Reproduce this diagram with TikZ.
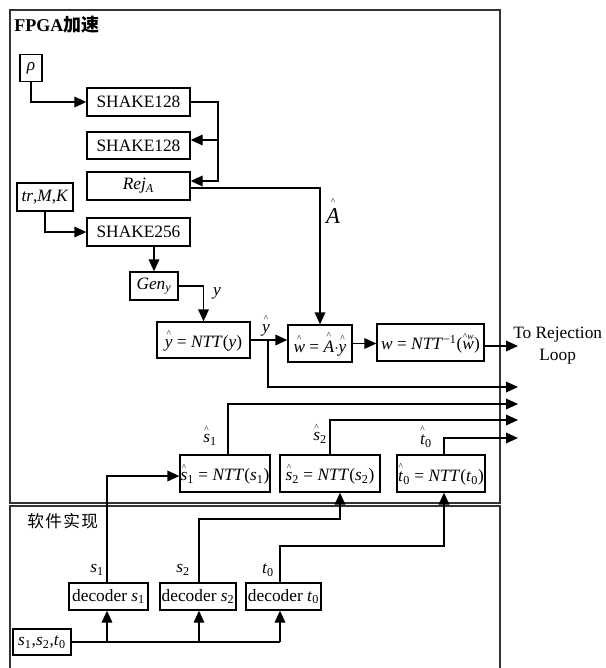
\documentclass[tikz,border=0pt]{standalone}
\usepackage{fontspec}
\usepackage{amsmath}
\setmainfont{Liberation Serif}
\newfontfamily\cjk{Noto Sans CJK SC}
\usetikzlibrary{arrows.meta,calc}
\newcommand\vi[1]{\textit{#1}}
\newcommand\hv[1]{\ensuremath{\overset{\text{\raisebox{-0.5pt}{\fontsize{7}{7}\selectfont\textasciicircum}}}{\text{\textit{#1}}}}}
\newcommand\hvw{\ensuremath{\overset{\text{\raisebox{-0.5pt}{\fontsize{7}{7}\selectfont\textasciicircum\textit{w}}}}{\text{\textit{w}}}}}
\tikzset{
  box/.style={draw, line width=1pt, inner sep=0pt, font=\fontsize{13}{15}\selectfont},
  sz/.style 2 args={minimum width=#1*0.75pt, minimum height=#2*0.75pt},
  arr/.style={line width=1pt, -{Triangle[length=9pt,width=8pt]}},
  ln/.style={line width=1pt},
  lab/.style={font=\fontsize{13}{15}\selectfont, inner sep=0pt},
  frame/.style={draw, line width=0.9pt, color=black!80}
}
\begin{document}
\begin{tikzpicture}[x=0.75pt,y=-0.75pt]
\useasboundingbox (0,0) rectangle (606,668);
% frames
\draw[frame] (10,10) rectangle (500,503);
\draw[frame] (10,670) -- (10,506) -- (500,506) -- (500,670);
\node[lab, anchor=west, font=\fontsize{13.5}{15}\selectfont\bfseries] (t1) at (14,25) {FPGA{\cjk 加速}};
\node[lab, anchor=west, font=\fontsize{12.5}{15}\selectfont] (t2) at (27,521) {\cjk 软\kern1pt 件\kern1pt 实\kern1pt 现};
% boxes
\node[box, sz={22}{27}] (rho) at (31,68) {\vi{ρ}};
\node[box, sz={103}{28}] (sh1) at (138.5,102) {SHAKE128};
\node[box, sz={103}{27}] (sh2) at (138.5,145.5) {SHAKE128};
\node[box, sz={103}{28}] (rej) at (138.5,186) {\vi{Rej}\textsubscript{\vi{A}}};
\node[box, sz={56}{28}] (trmk) at (45,197) {\vi{tr},\vi{M},\vi{K}};
\node[box, sz={103}{28}] (sh256) at (138.5,232) {SHAKE256};
\node[box, sz={48}{28}] (gen) at (154,286) {\vi{Gen}\textsubscript{\vi{y}}};
\node[box, sz={93}{36}] (ntty) at (203.5,340) {\hv{y} = \vi{NTT}(\vi{y})};
\node[box, sz={64}{37}] (wh) at (320,343.5) {\hv{w} = \hv{A}$\cdot$\hv{y}};
\node[box, sz={107}{37}] (winv) at (430.5,342.5) {\vi{w} = \vi{NTT}\textsuperscript{−1}(\hvw)};
\node[box, sz={90}{37}] (ns1) at (225,473.5) {\hv{s}\textsubscript{1} = \vi{NTT}(\vi{s}\textsubscript{1})};
\node[box, sz={100}{37}] (ns2) at (330,473.5) {\hv{s}\textsubscript{2} = \vi{NTT}(\vi{s}\textsubscript{2})};
\node[box, sz={88}{37}] (nt0) at (441,473.5) {\hv{t}\textsubscript{0} = \vi{NTT}(\vi{t}\textsubscript{0})};
\node[box, sz={79}{27}] (d1) at (108.5,596.5) {decoder \vi{s}\textsubscript{1}};
\node[box, sz={76}{27}] (d2) at (198,596.5) {decoder \vi{s}\textsubscript{2}};
\node[box, sz={75}{27}] (d3) at (283.5,596.5) {decoder \vi{t}\textsubscript{0}};
\node[box, sz={58}{26}] (src) at (42,642) {\vi{s}\textsubscript{1},\vi{s}\textsubscript{2},\vi{t}\textsubscript{0}};
% labels
\node[lab, font=\fontsize{17}{19}\selectfont] (alab) at (333,210) {\hv{A}};
\node[lab] (ylab) at (217,293) {\vi{y}};
\node[lab] (yhlab) at (266,325) {\hv{y}};
\node[lab] (s1hl) at (210,435) {\hv{s}\textsubscript{1}};
\node[lab] (s2hl) at (320,433) {\hv{s}\textsubscript{2}};
\node[lab] (t0hl) at (426,436) {\hv{t}\textsubscript{0}};
\node[lab] (s1l) at (97,570) {\vi{s}\textsubscript{1}};
\node[lab] (s2l) at (183,570) {\vi{s}\textsubscript{2}};
\node[lab] (t0l) at (268,570) {\vi{t}\textsubscript{0}};
\node[lab, align=center, anchor=west, font=\fontsize{13}{16.5}\selectfont] (rl) at (513,346) {To Rejection\\Loop};
% connectors
\coordinate (j1) at (218,140);
\draw[arr] (rho.south) |- (sh1.west);
\draw[ln] (sh1.east) -| (j1);
\draw[arr] (j1) -- (sh2.east|-j1);
\draw[arr] (j1) |- ($(rej.east)+(0,-5)$);
\draw[arr] ($(rej.east)+(0,2)$) -| (wh.north);
\draw[arr] (trmk.south) |- (sh256.west);
\draw[arr] (gen.north|-sh256.south) -- (gen.north);
\draw[arr] (gen.east) -| (ntty.north);
\draw[arr] (ntty.east) -- (wh.west|-ntty.east);
\coordinate (b1) at (268,340);
\coordinate (o1) at (518,387);
\draw[arr] (b1) |- (o1);
\draw[arr] (wh.east) -- (winv.west|-wh.east);
\coordinate (o0) at (518,346);
\draw[arr] (winv.east|-o0) -- (o0);
\coordinate (o2) at (518,404);
\coordinate (o3) at (518,420);
\coordinate (o4) at (518,438);
\draw[arr] ($(ns1.north)+(3,0)$) |- (o2);
\draw[arr] (ns2.north) |- (o3);
\draw[arr] ($(nt0.north)+(3,0)$) |- (o4);
\draw[arr] ($(d1.north)+(-1.5,0)$) |- ($(ns1.west)+(0,2.5)$);
\coordinate (k2) at (340,519);
\draw[arr] ($(d2.north)+(1,0)$) |- (k2) -- (k2|-ns2.south);
\coordinate (k3) at (444,546);
\draw[arr] ($(d3.north)+(-3.5,0)$) |- (k3) -- (k3|-nt0.south);
\coordinate (m3) at ($(d3.south|-src.east)+(-3.5,0)$);
\draw[ln] (src.east) -- (m3);
\draw[arr] ($(d1.south|-src.east)+(-1.5,0)$) -- ($(d1.south)+(-1.5,0)$);
\draw[arr] ($(d2.south|-src.east)+(1,0)$) -- ($(d2.south)+(1,0)$);
\draw[arr] (m3) -- ($(d3.south)+(-3.5,0)$);
\end{tikzpicture}
\end{document}
